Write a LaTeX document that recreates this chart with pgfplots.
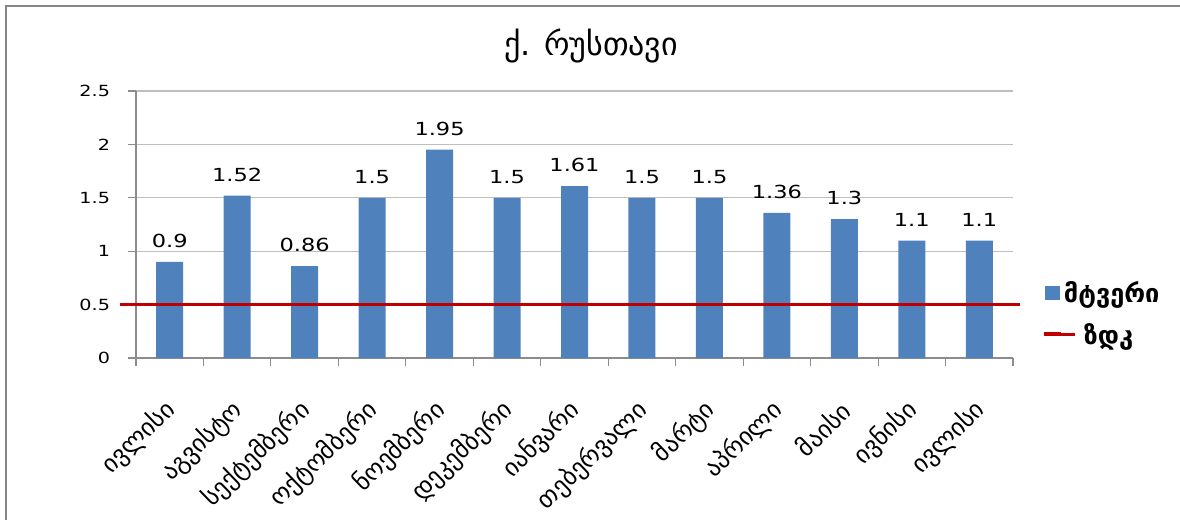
\documentclass[border=0pt]{standalone}
\usepackage{fontspec}
\usepackage{pgfplots}
\pgfplotsset{compat=1.18}
\setmainfont{DejaVu Sans}
\newfontfamily\numfont{DejaVu Sans}[FakeStretch=1.25]

\definecolor{barblue}{RGB}{79,129,189}
\definecolor{zdkred}{RGB}{192,0,0}
\definecolor{gridgray}{RGB}{190,190,190}
\definecolor{axisgray}{RGB}{140,140,140}
\definecolor{framegray}{RGB}{134,134,134}

\begin{document}
\begin{tikzpicture}
% page frame and title, in pixel-like units (1 unit = 0.75pt)
\begin{scope}[x=0.75pt,y=-0.75pt]
  \useasboundingbox (0,0) rectangle (1180,516);
  \draw[framegray, line width=1.6pt] (6,520) -- (6,6) -- (1190,6);
  \node[font=\fontsize{24pt}{27pt}\selectfont] at (591,46) {ქ. რუსთავი};
\end{scope}

\begin{axis}[
  at={(102pt,-268.5pt)}, anchor=south west,
  scale only axis, width=657.75pt, height=200.25pt,
  clip=false,
  xmin=-0.5, xmax=12.5,
  ymin=0, ymax=2.5,
  ytick={0,0.5,1,1.5,2,2.5},
  yticklabels={0,0.5,1,1.5,2,2.5},
  /pgf/number format/assume math mode=true,
  axis x line*=bottom, axis y line*=left,
  axis line style={draw=axisgray, line width=0.8pt, -},
  ymajorgrids, grid style={gridgray, line width=0.8pt},
  tick align=outside, major tick length=6pt,
  tick style={axisgray, line width=0.8pt},
  xtick={-0.5,0.5,...,12.5}, xticklabels={},
  extra x ticks={0,1,2,3,4,5,6,7,8,9,10,11,12},
  extra x tick labels={ივლისი,აგვისტო,სექტემბერი,ოქტომბერი,ნოემბერი,დეკემბერი,იანვარი,თებერვალი,მარტი,აპრილი,მაისი,ივნისი,ივლისი},
  extra x tick style={major tick length=0pt, grid=none},
  xticklabel style={rotate=44, anchor=east, font=\fontsize{18.5pt}{21pt}\selectfont, yshift=-27pt, xshift=-21pt},
  yticklabel style={font=\numfont\fontsize{11.5pt}{14pt}\selectfont, xshift=-10pt},
  legend style={at={(1.03,0.165)}, anchor=west, draw=none, fill=none,
    font=\fontsize{19pt}{21pt}\selectfont\bfseries, row sep=10pt},
  legend cell align=left,
]
\addplot[ybar, bar width=0.4, fill=barblue, draw=none,
  nodes near coords,
  every node near coord/.style={font=\numfont\fontsize{13.5pt}{15pt}\selectfont, black, yshift=7pt},
  legend image code/.code={\fill[barblue] (0pt,-5.5pt) rectangle (11pt,5.5pt);}]
  coordinates {(0,0.9) (1,1.52) (2,0.86) (3,1.5) (4,1.95) (5,1.5) (6,1.61)
               (7,1.5) (8,1.5) (9,1.36) (10,1.3) (11,1.1) (12,1.1)};
\addlegendentry{მტვერი}
\addplot[zdkred, line width=2.25pt, no marks,
  legend image code/.code={\draw[zdkred, line width=2.25pt, overlay] (7.5pt,0pt) -- (22.5pt,0pt);\path (0pt,0pt) rectangle (11pt,1pt);}]
  coordinates {(-0.74,0.5) (12.6,0.5)};
\addlegendentry{\hspace{15pt}ზდკ}
\end{axis}
\end{tikzpicture}
\end{document}
